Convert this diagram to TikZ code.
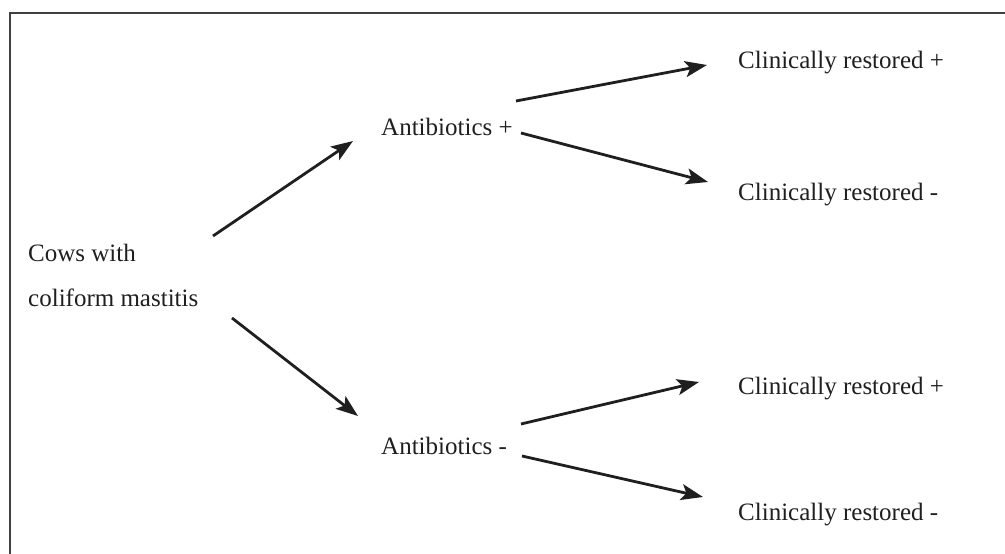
\documentclass[tikz,border=0pt]{standalone}
\usepackage{fontspec}
\setmainfont{Liberation Serif}
\usetikzlibrary{arrows.meta}
\begin{document}
\begin{tikzpicture}[x=1pt,y=-1pt,
  lbl/.style={anchor=base west,inner sep=0pt,text=black!88,font=\fontsize{25}{30}\selectfont},
  arr/.style={line width=2.8pt,draw=black!88,-{Stealth[length=22pt,width=16pt,inset=5pt]}},
  frame/.style={line width=2pt,draw=black!75}]
\useasboundingbox (0,0) rectangle (1005,554);
\draw[frame] (9.5,554) -- (9.5,12.5) -- (1005,12.5);
\node[lbl] (c1) at (28,261) {Cows with};
\node[lbl] (c2) at (28,306) {coliform mastitis};
\node[lbl] (ap) at (381,135) {Antibiotics +};
\node[lbl] (am) at (381,454) {Antibiotics -};
\node[lbl] (r1) at (738,68) {Clinically restored +};
\node[lbl] (r2) at (738,200) {Clinically restored -};
\node[lbl] (r3) at (738,394) {Clinically restored +};
\node[lbl] (r4) at (738,520) {Clinically restored -};
\coordinate (s1) at (213,236); \coordinate (e1) at (353,141);
\coordinate (s2) at (232,318); \coordinate (e2) at (358,416);
\coordinate (s3) at (516,101); \coordinate (e3) at (707,65);
\coordinate (s4) at (521,133); \coordinate (e4) at (708,182);
\coordinate (s5) at (521,424); \coordinate (e5) at (699,382);
\coordinate (s6) at (522,456); \coordinate (e6) at (703,497);
\draw[arr] (s1) -- (e1);
\draw[arr] (s2) -- (e2);
\draw[arr] (s3) -- (e3);
\draw[arr] (s4) -- (e4);
\draw[arr] (s5) -- (e5);
\draw[arr] (s6) -- (e6);
\end{tikzpicture}
\end{document}
